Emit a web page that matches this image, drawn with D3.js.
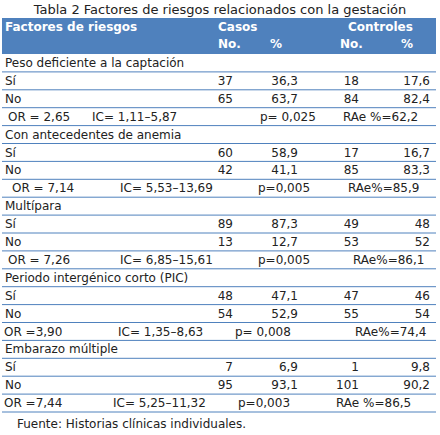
<!DOCTYPE html><html><head><meta charset="utf-8">
<script src="https://cdn.jsdelivr.net/npm/d3@7"></script>
<style>body{margin:0;background:#fff}text{font-family:"DejaVu Sans",Verdana,sans-serif;font-size:12px;fill:#222}</style></head><body>
<svg id="c" width="440" height="435"></svg>
<script>
const title = "Tabla 2 Factores de riesgos relacionados con la gestación";
const factors = ["Peso deficiente a la captación","Con antecedentes de anemia","Multípara","Periodo intergénico corto (PIC)","Embarazo múltiple"];
const siValues = [[37,"36,3",18,"17,6"],[60,"58,9",17,"16,7"],[89,"87,3",49,"48"],[48,"47,1",47,"46"],[7,"6,9",1,"9,8"]];
const noValues = [[65,"63,7",84,"82,4"],[42,"41,1",85,"83,3"],[13,"12,7",53,"52"],[54,"52,9",55,"54"],[95,"93,1",101,"90,2"]];
const stats = [
 ["OR = 2,65","IC= 1,11–5,87","p= 0,025","RAe %=62,2"],
 ["OR = 7,14","IC= 5,53–13,69","p=0,005","RAe%=85,9"],
 ["OR = 7,26","IC= 6,85–15,61","p=0,005","RAe%=86,1"],
 ["OR =3,90","IC= 1,35–8,63","p= 0,008","RAe%=74,4"],
 ["OR =7,44","IC= 5,25–11,32","p=0,003","RAe %=86,5"]];
const statX = [[8,92,260,343],[12,120,258,348],[8,120,258,353],[4,118,235,355],[4,113,238,336]];
const source = "Fuente: Historias clínicas individuales.";

const svg = d3.select("#c");
const blue = "#4f81bd";
svg.append("text").attr("x",220).attr("y",14).attr("text-anchor","middle").style("font-size","13px").text(title);
svg.append("rect").attr("x",2).attr("y",18).attr("width",434).attr("height",36).attr("fill",blue);
const hdr = [["Factores de riesgos",5,31],["Casos",218,31],["Controles",348,31],["No.",218,48],["%",270,48],["No.",340,48],["%",401,48]];
svg.selectAll(".h").data(hdr).join("text").attr("x",d=>d[1]).attr("y",d=>d[2]).style("fill","#fff").style("font-weight","bold").text(d=>d[0]);

const rows = [];
factors.forEach((f,i)=>{rows.push({t:"f",v:f});rows.push({t:"v",l:"Sí",v:siValues[i]});rows.push({t:"v",l:"No",v:noValues[i]});rows.push({t:"s",v:stats[i],x:statX[i]});});
const y = d3.scaleBand().domain(d3.range(rows.length)).range([54,412]);
const g = svg.selectAll(".r").data(rows).join("g").attr("transform",(d,i)=>`translate(0,${y(i)})`);
g.append("line").attr("x1",2).attr("x2",436).attr("y1",y.bandwidth()).attr("y2",y.bandwidth()).attr("stroke",blue).attr("stroke-width",1);
const by = 13;
g.filter(d=>d.t==="f").append("text").attr("x",5).attr("y",by).text(d=>d.v);
const vr = g.filter(d=>d.t==="v");
vr.append("text").attr("x",5).attr("y",by).text(d=>d.l);
const colX = [233,298,359,430];
colX.forEach((cx,k)=>vr.append("text").attr("x",cx).attr("y",by).attr("text-anchor","end").text(d=>d.v[k]));
const sr = g.filter(d=>d.t==="s");
[0,1,2,3].forEach(k=>sr.append("text").attr("x",d=>d.x[k]).attr("y",by).text(d=>d.v[k]));
svg.append("text").attr("x",17).attr("y",428).text(source);
</script></body></html>
